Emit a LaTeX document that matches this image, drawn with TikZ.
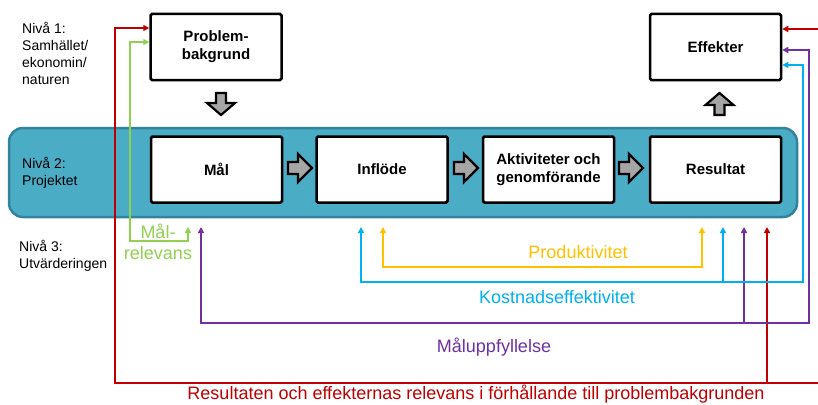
\documentclass[tikz,border=0pt]{standalone}
\usepackage{fontspec}
\setmainfont{Liberation Sans}
\usetikzlibrary{arrows.meta}
\definecolor{bandfill}{HTML}{4BACC6}
\definecolor{banddraw}{HTML}{31849B}
\definecolor{cgreen}{HTML}{92D050}
\definecolor{cyellow}{HTML}{FFC000}
\definecolor{cblue}{HTML}{00B0F0}
\definecolor{cpurple}{HTML}{7030A0}
\definecolor{cred}{HTML}{C00000}
\definecolor{arrowgray}{HTML}{A6A6A6}
\tikzset{
  box/.style={draw=black, line width=2.5pt, fill=white, rounded corners=1.5pt,
    minimum width=131pt, minimum height=66pt, inner sep=0pt, align=center,
    font=\fontsize{15}{18}\selectfont\bfseries},
  band/.style={draw=banddraw, line width=2.5pt, fill=bandfill, rounded corners=14pt,
    minimum width=788pt, minimum height=89pt, inner sep=0pt},
  level/.style={anchor=west, align=left, inner sep=0pt, font=\fontsize{14}{17}\selectfont},
  clabel/.style={inner sep=0pt, align=center, font=\fontsize{18}{21}\selectfont},
  blockarrow/.style={draw=black, line width=2.2pt, fill=arrowgray, line join=miter},
  conn/.style={line width=2pt, {Triangle[length=6pt,width=6pt]}-{Triangle[length=6pt,width=6pt]}},
  conn1/.style={line width=2pt, -{Triangle[length=6pt,width=6pt]}},
}
\begin{document}
\begin{tikzpicture}[x=1pt,y=-1pt]
\useasboundingbox (0,0) rectangle (818,404);
\clip (0,0) rectangle (818,404);
\fill[white] (0,0) rectangle (818,404);

% band
\node[band] (band) at (403,172.5) {};

% level labels
\node[level] (n1) at (22,53) {Nivå 1:\\Samhället/\\ekonomin/\\naturen};
\node[level] (n2) at (22,173) {Nivå 2:\\Projektet};
\node[level] (n3) at (19,256) {Nivå 3:\\Utvärderingen};

% coordinates for connector ends
\coordinate (gtip) at (188,227);
\coordinate (ptip) at (201,227);
\coordinate (btip) at (361,227);
\coordinate (ytip) at (383,227);
\coordinate (yend) at (702,227);
\coordinate (b2tip) at (723,227);
\coordinate (p2tip) at (744,227);
\coordinate (r2tip) at (767,227);
\coordinate (r2foot) at (767,383);
\coordinate (p2foot) at (744,323);
\coordinate (b2foot) at (723,282);

% boxes
\node[box] (prob) at (216,47) {Problem-\\bakgrund};
\node[box] (eff) at (715.5,47) {Effekter};
\node[box] (mal) at (216.5,169.5) {Mål};
\node[box] (infl) at (382,169.5) {Inflöde};
\node[box] (akt) at (548.5,169.5) {Aktiviteter och\\genomförande};
\node[box] (res) at (715.5,169.5) {Resultat};

% red
\draw[conn, draw=cred, line width=1.6pt]
  ([yshift=19pt]prob.west) -- (115,28) -- (115,383) -- (822,383) -- (822,29) -- ([yshift=18pt]eff.east);
\draw[conn1, draw=cred] (r2foot) -- (r2tip);
% green
\draw[conn, draw=cgreen]
  ([yshift=5pt]prob.west) -- (130,42) -- (130,241) -- (188,241) -- (gtip);
% purple
\draw[conn, draw=cpurple]
  (ptip) -- (201,323) -- (809,323) -- (809,50) -- ([yshift=-3pt]eff.east);
\draw[conn1, draw=cpurple] (p2foot) -- (p2tip);
% blue
\draw[conn, draw=cblue]
  (btip) -- (361,282) -- (803,282) -- (803,65) -- ([yshift=-18pt]eff.east);
\draw[conn1, draw=cblue] (b2foot) -- (b2tip);
% yellow
\draw[conn, draw=cyellow]
  (ytip) -- (383,267) -- (702,267) -- (yend);

% connector labels
\node[clabel, text=cgreen] (lmal) at (158,242) {Mål-\\relevans};
\node[clabel, text=cyellow] (lprod) at (578,252) {Produktivitet};
\node[clabel, text=cblue] (lkost) at (557,297) {Kostnadseffektivitet};
\node[clabel, text=cpurple] (lmalu) at (494,347) {Måluppfyllelse};
\node[clabel, text=cred] (lrel) at (476,394) {Resultaten och effekternas relevans i förhållande till problembakgrunden};

% block arrows
\draw[blockarrow, shift={(221,93)}] (-5,0) -- (5,0) -- (5,10) -- (14,10) -- (0,22) -- (-14,10) -- (-5,10) -- cycle;
\draw[blockarrow, shift={(719.5,93)}] (0,0) -- (14,12) -- (5,12) -- (5,22) -- (-5,22) -- (-5,12) -- (-14,12) -- cycle;
\draw[blockarrow, shift={(288,168)}] (0,-6) -- (10,-6) -- (10,-14) -- (24,0) -- (10,14) -- (10,6) -- (0,6) -- cycle;
\draw[blockarrow, shift={(454,168)}] (0,-6) -- (10,-6) -- (10,-14) -- (24,0) -- (10,14) -- (10,6) -- (0,6) -- cycle;
\draw[blockarrow, shift={(619,168)}] (0,-6) -- (10,-6) -- (10,-14) -- (24,0) -- (10,14) -- (10,6) -- (0,6) -- cycle;
\end{tikzpicture}
\end{document}
